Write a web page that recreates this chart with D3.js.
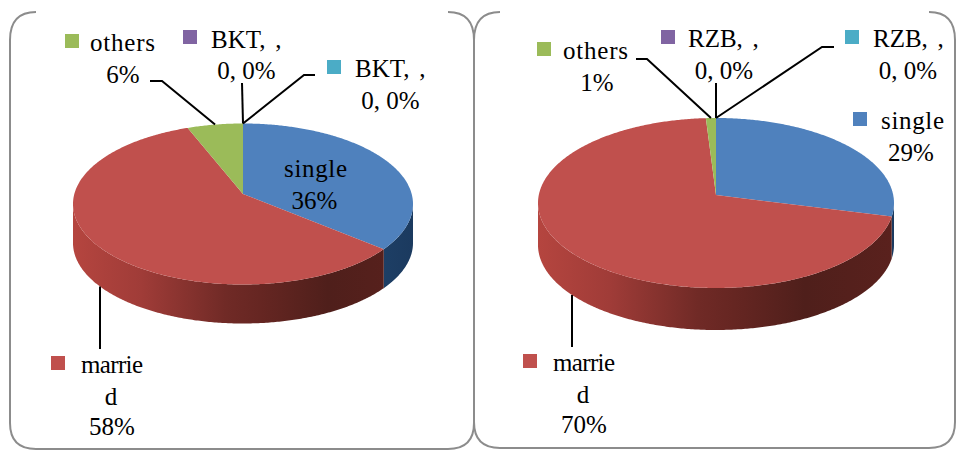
<!DOCTYPE html>
<html>
<head>
<meta charset="utf-8">
<script src="https://cdn.jsdelivr.net/npm/d3@7"></script>
<style>
  html, body { margin: 0; padding: 0; background: #fff; }
  svg { display: block; }
  text { font-family: "Liberation Serif", serif; font-size: 25px; fill: #000; }
</style>
</head>
<body>
<svg id="chart" width="961" height="450"></svg>
<script>
// Marital status shares for the two groups
const categoriesBkt = ["single", "married", "others", "BKT, ,", "BKT, ,"];
const valuesBkt = [36, 58, 6, 0, 0];
const categoriesRzb = ["single", "married", "others", "RZB, ,", "RZB, ,"];
const valuesRzb = [29, 70, 1, 0, 0];
const sliceColors = ["#4F81BD", "#C0504D", "#9BBB59", "#8064A2", "#4BACC6"];

// Geometry of each tilted pie and placement of its callouts
const panels = [
  {
    categories: categoriesBkt, values: valuesBkt,
    frame: { x0: 10, x1: 474, y0: 12, y1: 449, r: 26 },
    pie: { cx: 243, rx: 170, ellipseY: 204, ry: 80.5, apexY: 194, depth: 39 },
    labels: [
      { sx: 284, tx: 284, y: 177, width: 63, pctX: 314.5, pctY: 209, noSwatch: true },
      { sx: 51, swY: 356, tx: 81, y: 373, width: 62, wrap: { x: 111, y: 405 }, pctX: 112, pctY: 435,
        leader: [[100, 349]], toRim: true },
      { sx: 65, swY: 34, tx: 90, y: 51, width: 65, pctX: 123, pctY: 83,
        leader: [[150, 81], [162, 81]] },
      { sx: 183, swY: 30, tx: 211, y: 48, wordGap: 3.5, pctX: 246.5, pctY: 79,
        leader: [[242, 83]] },
      { sx: 327, swY: 60, tx: 355, y: 77, wordGap: 3.5, pctX: 390.5, pctY: 109,
        leader: [[315, 75], [304, 75]] }
    ]
  },
  {
    categories: categoriesRzb, values: valuesRzb,
    frame: { x0: 474, x1: 955, y0: 12, y1: 448, r: 26 },
    pie: { cx: 716, rx: 178, ellipseY: 203, ry: 85, apexY: 195, depth: 42 },
    labels: [
      { sx: 853, swY: 112, tx: 881, y: 129, width: 63, pctX: 911, pctY: 161 },
      { sx: 523, swY: 354, tx: 553, y: 371, width: 62, wrap: { x: 583, y: 403 }, pctX: 584, pctY: 433,
        leader: [[572, 347]], toRim: true },
      { sx: 537, swY: 42, tx: 563, y: 59, width: 65, pctX: 597, pctY: 91,
        leader: [[636, 59], [647, 59]] },
      { sx: 661, swY: 30, tx: 688, y: 47, wordGap: 3.5, pctX: 724, pctY: 79,
        leader: [[716, 83]] },
      { sx: 845, swY: 30, tx: 873, y: 47, wordGap: 3.5, pctX: 908, pctY: 79,
        leader: [[834, 47], [822, 47]] }
    ]
  }
];

const svg = d3.select("#chart");
const defs = svg.append("defs");
const layout = d3.pie().sort(null).startAngle(0).endAngle(2 * Math.PI);
const outline = d3.line();
const TAU = 2 * Math.PI;

// Point on the rim reached by a ray from the off-centre apex at pie angle a
function rimPoint(p, a) {
  const o = p.apexY - p.ellipseY;
  const dx = Math.sin(a) * p.rx, dy = -Math.cos(a) * p.ry;
  const A = (dx / p.rx) ** 2 + (dy / p.ry) ** 2;
  const B = 2 * dy * o / (p.ry * p.ry);
  const C = (o / p.ry) ** 2 - 1;
  const t = (-B + Math.sqrt(B * B - 4 * A * C)) / (2 * A);
  return [p.cx + dx * t, p.apexY + dy * t];
}

function rimSamples(p, a0, a1) {
  const n = Math.max(2, Math.ceil((a1 - a0) / 0.01));
  return d3.range(n + 1).map(i => rimPoint(p, a0 + (a1 - a0) * i / n));
}

function sideGradient(id, p, stops) {
  const g = defs.append("linearGradient").attr("id", id)
    .attr("gradientUnits", "userSpaceOnUse")
    .attr("x1", p.cx - p.rx).attr("x2", p.cx + p.rx).attr("y1", 0).attr("y2", 0);
  stops.forEach(([o, c]) => g.append("stop").attr("offset", o).attr("stop-color", c));
  return `url(#${id})`;
}

panels.forEach((panel, idx) => {
  const { frame: f, pie: p } = panel;
  const root = svg.append("g");

  // Rounded frame, open along the top edge
  const path = d3.path();
  path.moveTo(f.x0 + f.r, f.y0);
  path.quadraticCurveTo(f.x0, f.y0, f.x0, f.y0 + f.r + 2);
  path.lineTo(f.x0, f.y1 - f.r);
  path.quadraticCurveTo(f.x0, f.y1, f.x0 + f.r, f.y1);
  path.lineTo(f.x1 - f.r, f.y1);
  path.quadraticCurveTo(f.x1, f.y1, f.x1, f.y1 - f.r);
  path.lineTo(f.x1, f.y0 + f.r + 2);
  path.quadraticCurveTo(f.x1, f.y0, f.x1 - f.r, f.y0);
  root.append("path").attr("d", path.toString())
    .attr("fill", "none").attr("stroke", "#8c8c8c").attr("stroke-width", 2);

  const arcs = layout(panel.values);

  // Front wall spans the rim between its two horizontal extremes
  const o = p.apexY - p.ellipseY;
  const frontStart = Math.atan2(1, o / p.ry);
  const frontEnd = TAU - frontStart;

  const redSide = sideGradient(`side-red-${idx}`, p, [
    [0, "#b5453f"], [0.2, "#a03c38"], [0.45, "#702a26"], [0.55, "#662622"], [0.75, "#4f1f1b"], [1, "#5a211d"]
  ]);
  const blueSide = sideGradient(`side-blue-${idx}`, p, [
    [0, "#2a5282"], [0.85, "#1f4269"], [1, "#1b3a5f"]
  ]);
  const sideFill = [blueSide, redSide, "#6e8440", "#5b4774", "#347b8e"];

  arcs.forEach((d, i) => {
    const a0 = Math.max(d.startAngle, frontStart);
    const a1 = Math.min(d.endAngle, frontEnd);
    if (a1 <= a0) return;
    const top = rimSamples(p, a0, a1);
    const bottom = top.map(([x, y]) => [x, y + p.depth]).reverse();
    root.append("path").attr("d", outline(top.concat(bottom)) + "Z")
      .attr("fill", sideFill[i]);
  });

  // Top face
  arcs.forEach((d, i) => {
    if (d.endAngle <= d.startAngle) return;
    const pts = [[p.cx, p.apexY]].concat(rimSamples(p, d.startAngle, d.endAngle));
    root.append("path").attr("d", outline(pts) + "Z").attr("fill", sliceColors[i]);
  });

  // Leader lines, callouts and colour keys
  arcs.forEach((d, i) => {
    const lab = panel.labels[i];
    if (lab.leader) {
      const start = lab.leader[0];
      let end;
      if (lab.toRim) {
        // Vertical drop meets the bottom outline of the wall
        const s = (start[0] - p.cx) / p.rx;
        end = [start[0], p.ellipseY + p.ry * Math.sqrt(1 - s * s) + p.depth];
      } else {
        end = rimPoint(p, (d.startAngle + d.endAngle) / 2);
      }
      root.append("path").attr("d", outline(lab.leader.concat([end])))
        .attr("fill", "none").attr("stroke", "#000").attr("stroke-width", 2);
    }
    if (!lab.noSwatch) {
      root.append("rect").attr("x", lab.sx).attr("y", lab.swY)
        .attr("width", 14).attr("height", 14).attr("fill", sliceColors[i]);
    }
    const name = panel.categories[i];
    const zero = d.value === 0;
    const head = lab.wrap ? name.slice(0, 6) : name;
    const headText = root.append("text").attr("x", lab.tx).attr("y", lab.y).text(head);
    if (lab.width) headText.attr("textLength", lab.width).attr("lengthAdjust", "spacing");
    if (lab.wordGap) headText.style("word-spacing", `${lab.wordGap}px`);
    if (lab.wrap) {
      root.append("text").attr("x", lab.wrap.x).attr("y", lab.wrap.y)
        .attr("text-anchor", "middle").text(name.slice(6));
    }
    root.append("text").attr("x", lab.pctX).attr("y", lab.pctY)
      .attr("text-anchor", "middle")
      .text(zero ? `${d.value}, ${d.value}%` : `${d.value}%`);
  });
});
</script>
</body>
</html>
